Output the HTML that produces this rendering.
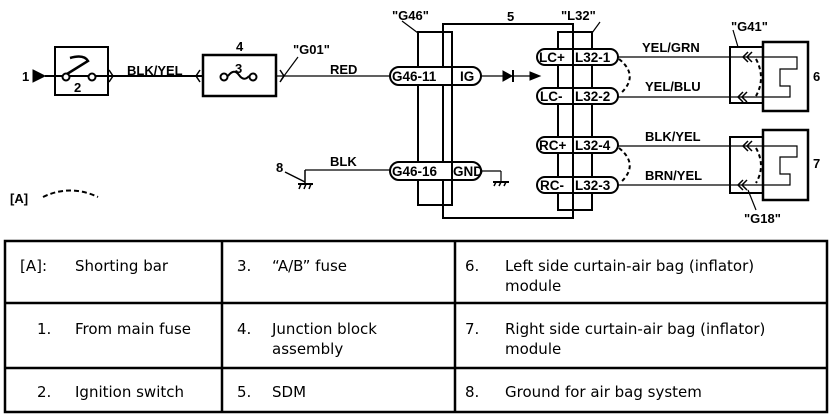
<!DOCTYPE html>
<html><head><style>
body{margin:0;background:#fff;width:832px;height:420px;overflow:hidden}
svg{position:absolute;left:0;top:0}
.b{font-family:"Liberation Sans",sans-serif;font-weight:bold;font-size:13px}
.p{font-family:"Liberation Sans",sans-serif;font-weight:bold;font-size:13.5px}
.t{font-family:"DejaVu Sans","Liberation Sans",sans-serif;font-size:15px}
</style></head><body>
<svg width="832" height="420" viewBox="0 0 832 420">
<g fill="none" stroke="#000">
<line x1="45" y1="76" x2="203" y2="76" stroke-width="2"/>
<line x1="276" y1="76" x2="390" y2="76" stroke-width="1.2"/>
<polygon points="33,70 45,76 33,82" fill="#000"/>
<rect x="55" y="47" width="53" height="48" stroke-width="2"/>
<circle cx="66" cy="77" r="3.5" stroke-width="2" fill="#fff"/>
<circle cx="92" cy="77" r="3.5" stroke-width="2" fill="#fff"/>
<path d="M67,74 L88,61 Q84,54 70,58" stroke-width="2.5"/>
<path d="M109,70 L113,76 L109,82" stroke-width="1.5"/>
<path d="M200,70 L196,76 L200,82" stroke-width="1.5"/>
<rect x="203" y="55" width="73" height="41" stroke-width="2.5"/>
<circle cx="224" cy="77" r="3.5" stroke-width="2" fill="#fff"/>
<circle cx="253" cy="77" r="3.5" stroke-width="2" fill="#fff"/>
<path d="M228,76 Q234,68 239,75 Q244,82 249,76" stroke-width="2"/>
<path d="M280,70 L284,76 L280,82" stroke-width="1.5"/>
<line x1="281" y1="80" x2="298" y2="57" stroke-width="1.2"/>
<line x1="305" y1="170" x2="390" y2="170" stroke-width="1.2"/>
<line x1="305" y1="170" x2="305" y2="184" stroke-width="1.5"/>
<line x1="285" y1="172" x2="305" y2="182" stroke-width="1.5"/>
<line x1="298" y1="184" x2="313" y2="184" stroke-width="2"/>
<path d="M301,184 l-2,5 M306,184 l-2,5 M311,184 l-2,5" stroke-width="1.5"/>
<path d="M43,197 Q70,184 98,197" stroke-width="2" stroke-dasharray="5,3"/>
<rect x="443" y="24" width="130" height="194" stroke-width="2"/>
<rect x="418" y="32" width="34" height="173" stroke-width="2"/>
<rect x="558" y="32" width="34" height="178" stroke-width="2"/>
<line x1="402" y1="21" x2="418" y2="33" stroke-width="1.2"/>
<line x1="592" y1="33" x2="600" y2="22" stroke-width="1.2"/>
<line x1="481" y1="76" x2="538" y2="76" stroke-width="1.2"/>
<polygon points="503,71 512,76 503,81" fill="#000"/>
<line x1="513" y1="70" x2="513" y2="82" stroke-width="2"/>
<polygon points="530,72 540,76 530,80" fill="#000"/>
<line x1="481" y1="171" x2="501" y2="171" stroke-width="1.2"/>
<line x1="501" y1="171" x2="501" y2="182" stroke-width="1.2"/>
<line x1="493" y1="182" x2="509" y2="182" stroke-width="2"/>
<path d="M496,182 l-2,4 M501,182 l-2,4 M506,182 l-2,4" stroke-width="1.5"/>
<path d="M618,57 H797 V69 H780 V86 H790 V97 H618" stroke-width="1.2"/>
<path d="M618,146 H797 V157 H780 V174 H790 V185 H618" stroke-width="1.2"/>
<path d="M619,59 Q640,76 620,94" stroke-width="2" stroke-dasharray="4,3"/>
<path d="M619,148 Q640,165 620,183" stroke-width="2" stroke-dasharray="4,3"/>
<path d="M756,59 Q766,78 756,96" stroke-width="2" stroke-dasharray="4,3"/>
<path d="M756,148 Q766,166 756,183" stroke-width="2" stroke-dasharray="4,3"/>
<rect x="730" y="47" width="33" height="56" stroke-width="2"/>
<rect x="763" y="42" width="45" height="69" stroke-width="2.5"/>
<rect x="730" y="137" width="33" height="56" stroke-width="2"/>
<rect x="763" y="130" width="45" height="70" stroke-width="2.5"/>
<path d="M748,52 l-5,5 l5,5 M752,52 l-5,5 l5,5 M743,92 l-5,5 l5,5 M747,92 l-5,5 l5,5 M748,141 l-5,5 l5,5 M752,141 l-5,5 l5,5 M743,180 l-5,5 l5,5 M747,180 l-5,5 l5,5" stroke-width="1.5"/>
<line x1="733" y1="30" x2="738" y2="47" stroke-width="1.2"/>
<line x1="748" y1="190" x2="756" y2="210" stroke-width="1.2"/>
</g>
<g stroke="#000" stroke-width="2" fill="#fff">
<rect x="390" y="67" width="91" height="18" rx="9"/>
<rect x="390" y="162" width="91" height="18" rx="9"/>
<rect x="537" y="49" width="81" height="16" rx="8"/>
<rect x="537" y="88" width="81" height="16" rx="8"/>
<rect x="537" y="137" width="81" height="16" rx="8"/>
<rect x="537" y="177" width="81" height="16" rx="8"/>
</g>
<g stroke="#000" stroke-width="2">
<line x1="452" y1="67" x2="452" y2="85"/><line x1="452" y1="162" x2="452" y2="180"/>
<line x1="573" y1="49" x2="573" y2="65"/><line x1="573" y1="88" x2="573" y2="104"/>
<line x1="573" y1="137" x2="573" y2="153"/><line x1="573" y1="177" x2="573" y2="193"/>
</g>
<g class="b">
<text x="22" y="81">1</text>
<text x="74" y="92">2</text>
<text x="127" y="75">BLK/YEL</text>
<text x="236" y="51">4</text>
<text x="235" y="73">3</text>
<text x="293" y="54">"G01"</text>
<text x="330" y="74">RED</text>
<text x="276" y="172">8</text>
<text x="330" y="166">BLK</text>
<text x="10" y="203">[A]</text>
<text x="392" y="20">"G46"</text>
<text x="507" y="21">5</text>
<text x="561" y="20">"L32"</text>
<text x="642" y="52">YEL/GRN</text>
<text x="645" y="91">YEL/BLU</text>
<text x="645" y="141">BLK/YEL</text>
<text x="645" y="180">BRN/YEL</text>
<text x="731" y="31">"G41"</text>
<text x="744" y="223">"G18"</text>
<text x="813" y="81">6</text>
<text x="813" y="168">7</text>
</g>
<g class="p">
<text x="392" y="81">G46-11</text><text x="460" y="81">IG</text>
<text x="392" y="176">G46-16</text><text x="453" y="176">GND</text>
<text x="539" y="62">LC+</text><text x="575" y="62">L32-1</text>
<text x="540" y="101">LC-</text><text x="575" y="101">L32-2</text>
<text x="539" y="150">RC+</text><text x="575" y="150">L32-4</text>
<text x="540" y="190">RC-</text><text x="575" y="190">L32-3</text>
</g>
<g fill="none" stroke="#000" stroke-width="2.5">
<rect x="5" y="241" width="822" height="171"/>
<line x1="5" y1="303" x2="827" y2="303"/>
<line x1="5" y1="368" x2="827" y2="368"/>
<line x1="222" y1="241" x2="222" y2="412"/>
<line x1="455" y1="241" x2="455" y2="412"/>
</g>
<g class="t">
<text x="20" y="271">[A]:</text><text x="75" y="271">Shorting bar</text>
<text x="237" y="271">3.</text><text x="272" y="271">“A/B” fuse</text>
<text x="465" y="271">6.</text><text x="505" y="271">Left side curtain-air bag (inflator)</text>
<text x="505" y="291">module</text>
<text x="37" y="334">1.</text><text x="75" y="334">From main fuse</text>
<text x="237" y="334">4.</text><text x="272" y="334">Junction block</text>
<text x="272" y="354">assembly</text>
<text x="465" y="334">7.</text><text x="505" y="334">Right side curtain-air bag (inflator)</text>
<text x="505" y="354">module</text>
<text x="37" y="397">2.</text><text x="75" y="397">Ignition switch</text>
<text x="237" y="397">5.</text><text x="272" y="397">SDM</text>
<text x="465" y="397">8.</text><text x="505" y="397">Ground for air bag system</text>
</g>
</svg>
</body></html>
